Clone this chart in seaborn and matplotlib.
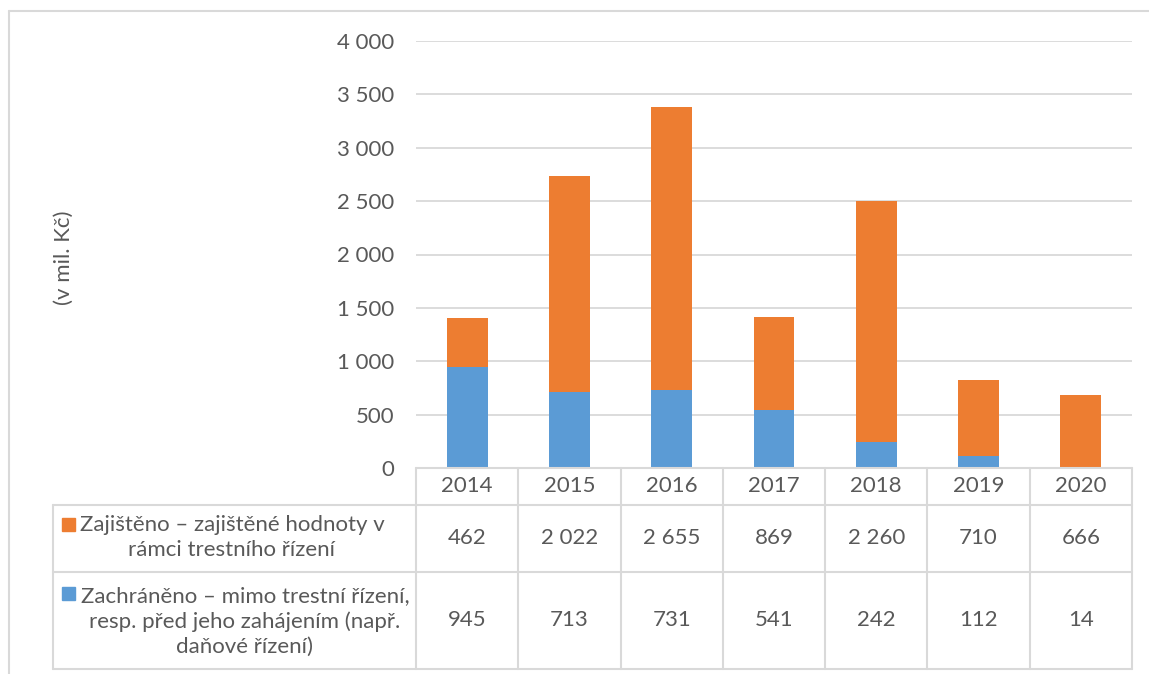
import matplotlib
matplotlib.use("Agg")
import matplotlib.pyplot as plt
from matplotlib.lines import Line2D
from matplotlib.patches import Rectangle
import matplotlib.transforms as mtransforms
import seaborn as sns

# Data (v mil. Kč)
years = ["2014", "2015", "2016", "2017", "2018", "2019", "2020"]
zajisteno = [462, 2022, 2655, 869, 2260, 710, 666]
zachraneno = [945, 713, 731, 541, 242, 112, 14]
label_zajisteno = "Zajištěno – zajištěné hodnoty v\nrámci trestního řízení"
label_zachraneno = "Zachráněno – mimo trestní řízení,\nresp. před jeho zahájením (např.\ndaňové řízení)"
y_ticks = [0, 500, 1000, 1500, 2000, 2500, 3000, 3500, 4000]
y_label = "(v mil. Kč)"

ORANGE = "#ED7D31"
BLUE = "#5B9BD5"
GRID = "#D9D9D9"
TEXT = "#595959"
FS = 16

sns.set_theme(style="white")
plt.rcParams["font.family"] = ["Lato", "DejaVu Sans"]

W, H = 1149, 674
fig = plt.figure(figsize=(W / 100, H / 100), dpi=100)


def fx(px):
    return px / W


def fy(py):
    return 1 - py / H


ax = fig.add_axes([fx(416), fy(468), fx(1132) - fx(416), fy(41) - fy(468)])

totals = [a + b for a, b in zip(zajisteno, zachraneno)]
# Stack: totals in orange underneath, lower segment in blue on top
sns.barplot(x=years, y=totals, color=ORANGE, saturation=1, width=0.4, ax=ax,
            zorder=2, linewidth=0)
sns.barplot(x=years, y=zachraneno, color=BLUE, saturation=1, width=0.4, ax=ax,
            zorder=3, linewidth=0)

ax.set_xlim(-0.5, len(years) - 0.5)
ax.set_ylim(0, 4000)
ax.set_yticks(y_ticks)
ax.set_yticklabels([f"{v:,}".replace(",", " ") for v in y_ticks], color=TEXT, fontsize=FS)
ax.tick_params(axis="y", length=0, pad=15.5)
ax.set_xticks([])
ax.set_xlabel("")
ax.set_ylabel("")
ax.yaxis.grid(True, color=GRID, lw=1.3)
ax.set_axisbelow(True)
for s in ax.spines.values():
    s.set_visible(False)

fig.text(fx(64), fy(258), y_label, rotation=90, ha="center", va="center",
         color=TEXT, fontsize=FS)

# Data table below the plot
tr = mtransforms.blended_transform_factory(ax.transData, fig.transFigure)
fig.canvas.draw()


def data_to_fx(x):
    return fig.transFigure.inverted().transform(ax.transData.transform((x, 0)))[0]


row_top, row_hdr, row_1, row_bot = 468, 505, 572, 669
x_first = data_to_fx(-0.5)
x_last = data_to_fx(len(years) - 0.5)
lw = 1.5
lines = [
    ((x_first, x_last), (fy(row_top), fy(row_top))),
    ((fx(53), x_last), (fy(row_hdr), fy(row_hdr))),
    ((fx(53), x_last), (fy(row_1), fy(row_1))),
    ((fx(53), x_last), (fy(row_bot), fy(row_bot))),
    ((fx(53), fx(53)), (fy(row_hdr), fy(row_bot))),
]
for i in range(len(years) + 1):
    xv = data_to_fx(i - 0.5)
    lines.append(((xv, xv), (fy(row_top), fy(row_bot))))
for xs, ys in lines:
    fig.add_artist(Line2D(xs, ys, color=GRID, lw=lw, transform=fig.transFigure))


def fmt(v):
    return f"{v:,}".replace(",", " ")


for i, yr in enumerate(years):
    fig.text(i, fy((row_top + row_hdr) / 2), yr, transform=tr, ha="center",
             va="center", color=TEXT, fontsize=FS)
    fig.text(i, fy((row_hdr + row_1) / 2), fmt(zajisteno[i]), transform=tr,
             ha="center", va="center", color=TEXT, fontsize=FS)
    fig.text(i, fy((row_1 + row_bot) / 2), fmt(zachraneno[i]), transform=tr,
             ha="center", va="center", color=TEXT, fontsize=FS)

# Row headers with legend keys
fig.text(fx(232), fy((row_hdr + row_1) / 2 - 1), label_zajisteno, ha="center",
         va="center", multialignment="center", color=TEXT, fontsize=FS,
         linespacing=1.3)
fig.add_artist(Rectangle((fx(62), fy(531)), fx(13), fy(518) - fy(531),
                         color=ORANGE, transform=fig.transFigure))
fig.text(fx(245), fy((row_1 + row_bot) / 2 + 1), label_zachraneno, ha="center",
         va="center", multialignment="center", color=TEXT, fontsize=FS,
         linespacing=1.3)
fig.add_artist(Rectangle((fx(62), fy(600)), fx(13), fy(587) - fy(600),
                         color=BLUE, transform=fig.transFigure))

# Chart area frame (left and top edges)
fig.add_artist(Line2D([fx(8.5), fx(8.5)], [fy(11), 0], color=GRID, lw=1.5,
                      transform=fig.transFigure))
fig.add_artist(Line2D([fx(8.5), 1], [fy(11), fy(11)], color=GRID, lw=1.5,
                      transform=fig.transFigure))

fig.savefig("out.png", dpi=100)
